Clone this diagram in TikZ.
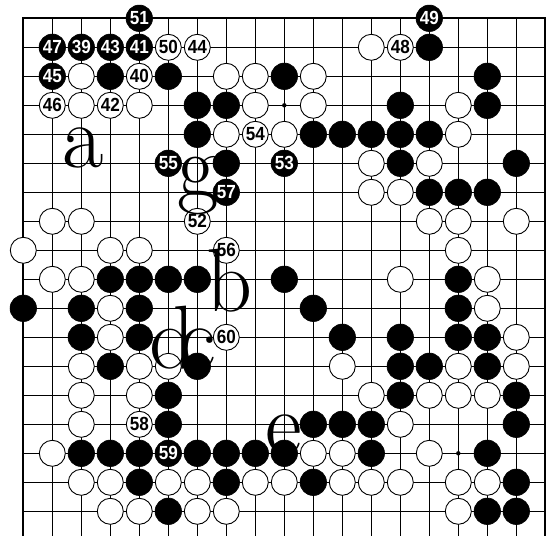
\documentclass[tikz,border=0pt]{standalone}
\usepackage{fontspec}
\newfontfamily\numfont[FakeStretch=0.9]{Liberation Sans}
\tikzset{
  gridline/.style={line width=0.8pt, black},
  edgeline/.style={line width=1.8pt, black},
  bs/.style={circle, fill=black, draw=black, line width=0.6pt, minimum size=26.5pt, inner sep=0pt,
             text=white, font=\numfont\bfseries\fontsize{19}{19}\selectfont},
  ws/.style={circle, fill=white, draw=black, line width=0.9pt, minimum size=26pt, inner sep=0pt,
             text=black, font=\numfont\bfseries\fontsize{19}{19}\selectfont},
  lbl/.style={anchor=base, inner sep=0pt, font=\fontsize{90}{90}\selectfont}
}
\begin{document}
\begin{tikzpicture}[x=1pt,y=-1pt]
\useasboundingbox (0,0) rectangle (550,536);
\fill[white] (0,0) rectangle (550,536);
\begin{scope}[shift={(23.3,18.3)}, x=29pt, y=-29pt]
  % grid
  \foreach \c in {1,...,17} \draw[gridline] (\c,0) -- (\c,17.9);
  \foreach \r in {1,...,17} \draw[gridline] (0,\r) -- (18,\r);
  \draw[edgeline] (0,17.9) -- (0,0) -- (18,0) -- (18,17.9);
  \fill (9,3) circle (2.2pt);
  \fill (15,15) circle (2.2pt);
  % black stones
  \foreach \c/\r in {14/1,
    3/2,5/2,9/2,16/2,
    6/3,7/3,13/3,16/3,
    6/4,10/4,11/4,12/4,13/4,14/4,
    7/5,13/5,17/5,
    14/6,15/6,16/6,
    3/9,4/9,5/9,6/9,9/9,15/9,
    0/10,2/10,4/10,10/10,15/10,
    2/11,4/11,11/11,13/11,15/11,16/11,
    3/12,6/12,13/12,14/12,16/12,
    5/13,13/13,17/13,
    5/14,10/14,11/14,12/14,17/14,
    2/15,3/15,4/15,6/15,7/15,8/15,9/15,12/15,16/15,
    4/16,7/16,10/16,17/16,
    5/17,16/17,17/17}
    \node[bs] (b\c-\r) at (\c,\r) {};
  % white stones
  \foreach \c/\r in {12/1,
    2/2,7/2,8/2,10/2,
    2/3,4/3,8/3,10/3,15/3,
    7/4,9/4,15/4,
    12/5,14/5,
    12/6,13/6,
    1/7,2/7,14/7,15/7,17/7,
    0/8,3/8,4/8,15/8,
    1/9,2/9,13/9,16/9,
    3/10,16/10,
    3/11,17/11,
    2/12,4/12,5/12,11/12,15/12,17/12,
    2/13,4/13,12/13,14/13,15/13,16/13,
    2/14,13/14,
    1/15,10/15,11/15,14/15,
    2/16,3/16,5/16,6/16,8/16,9/16,11/16,12/16,13/16,15/16,16/16,
    3/17,4/17,6/17,7/17,15/17}
    \node[ws] (w\c-\r) at (\c,\r) {};
  % numbered black stones
  \foreach \c/\r/\n in {4/0/51,14/0/49,1/1/47,2/1/39,3/1/43,4/1/41,1/2/45,
    5/5/55,9/5/53,7/6/57,5/15/59}
    \node[bs] (m\n) at (\c,\r) {\n};
  % numbered white stones
  \foreach \c/\r/\n in {5/1/50,6/1/44,13/1/48,4/2/40,1/3/46,3/3/42,
    8/4/54,6/7/52,7/8/56,7/11/60,4/14/58}
    \node[ws] (m\n) at (\c,\r) {\n};
\end{scope}
% letters
\node[lbl] (la) at (83,167) {a};
\node[lbl] (lg) at (198,196) {g};
\node[lbl] (lb) at (229,311) {b};
\node[lbl] (ld) at (172,368) {d};
\node[lbl] (lc) at (198,368) {c};
\node[lbl] (le) at (284,454) {e};
\end{tikzpicture}
\end{document}
